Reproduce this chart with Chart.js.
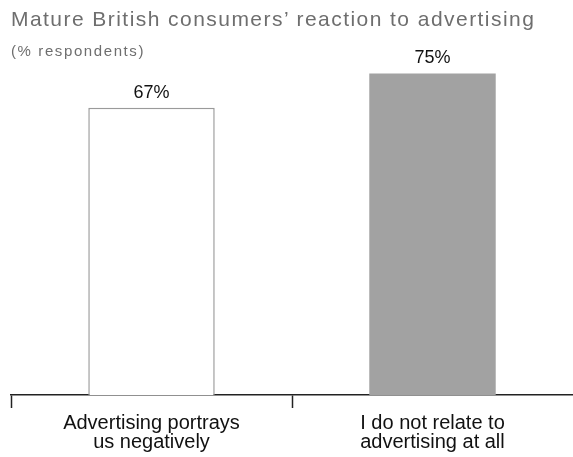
<!DOCTYPE html>
<html>
<head>
<meta charset="utf-8">
<script src="https://cdn.jsdelivr.net/npm/chart.js@4.4.1/dist/chart.umd.min.js"></script>
<style>
  body { margin: 0; background: #fff; }
  .wrap { position: relative; width: 573px; height: 457px; }
  #title {
    position: absolute; left: 11px; top: 7px;
    font: 21px "Liberation Sans", Arial, sans-serif;
    letter-spacing: 1.45px;
    color: #6e6e6e; white-space: nowrap;
  }
  #subtitle {
    position: absolute; left: 11px; top: 42px;
    font: 15px "Liberation Sans", Arial, sans-serif;
    letter-spacing: 1.6px;
    color: #6e6e6e; white-space: nowrap;
  }
  canvas { position: absolute; left: 0; top: 0; }
</style>
</head>
<body>
<div class="wrap">
  <canvas id="chart" width="573" height="457"></canvas>
  <div id="title">Mature British consumers’ reaction to advertising</div>
  <div id="subtitle">(% respondents)</div>
</div>
<script>
const categories = [
  ["Advertising portrays", "us negatively"],
  ["I do not relate to", "advertising at all"]
];
const values = [67, 75];
const barFills = ["#ffffff", "#a2a2a2"];
const barBorders = ["#9a9a9a", "#a2a2a2"];

const valueLabels = {
  id: "valueLabels",
  afterDatasetsDraw(chart) {
    const ctx = chart.ctx;
    const meta = chart.getDatasetMeta(0);
    ctx.save();
    ctx.font = '18px "Liberation Sans", Arial, sans-serif';
    ctx.fillStyle = "#111";
    ctx.textAlign = "center";
    ctx.textBaseline = "bottom";
    meta.data.forEach((bar, i) => {
      ctx.fillText(values[i] + "%", bar.x, bar.y - 6);
    });
    ctx.restore();
  }
};

new Chart(document.getElementById("chart"), {
  type: "bar",
  data: {
    labels: categories,
    datasets: [{
      data: values,
      backgroundColor: barFills,
      borderColor: barBorders,
      borderWidth: [1.5, 0],
      categoryPercentage: 1,
      barPercentage: 0.45
    }]
  },
  options: {
    responsive: false,
    animation: false,
    layout: { padding: { top: 52, left: 11, right: 0, bottom: 0 } },
    plugins: { legend: { display: false }, tooltip: { enabled: false } },
    scales: {
      y: { display: false, min: 0, max: 80 },
      x: {
        offset: true,
        afterFit(scale) { scale.height = 62; },
        border: { display: true, color: "#222", width: 1.5 },
        grid: {
          offset: true,
          drawOnChartArea: false,
          tickLength: 13,
          tickWidth: 1.5,
          // only the boundary ticks that belong to a category, not the far right edge
          tickColor: (ctx) => (ctx.type === "tick" ? "#222" : "rgba(0,0,0,0)")
        },
        ticks: {
          color: "#111",
          padding: 6,
          maxRotation: 0,
          font: { family: '"Liberation Sans", Arial, sans-serif', size: 20, lineHeight: 0.95 }
        }
      }
    }
  },
  plugins: [valueLabels]
});
</script>
</body>
</html>
